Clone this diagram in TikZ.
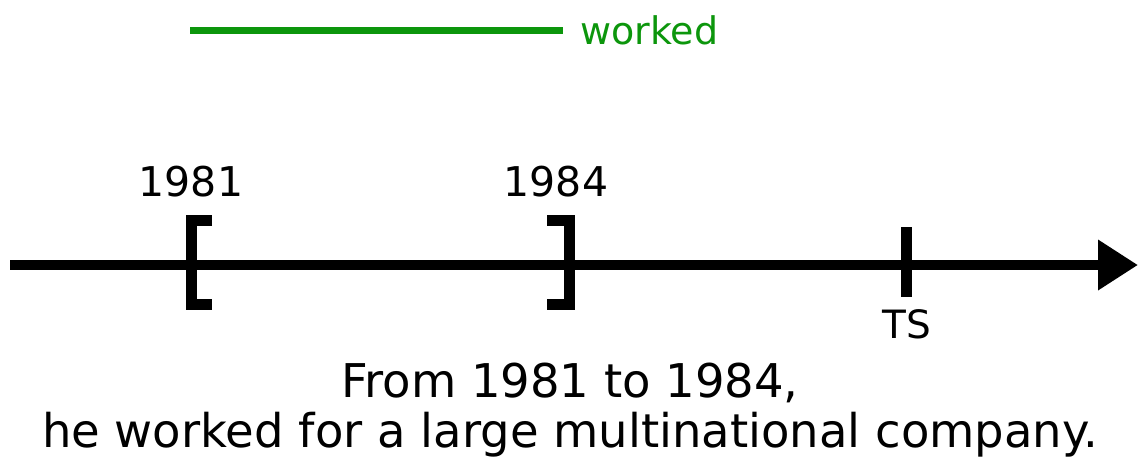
\documentclass[tikz,border=0pt]{standalone}
\usepackage{fontspec}
\setmainfont{DejaVu Sans}
\usetikzlibrary{arrows.meta}
\definecolor{workgreen}{RGB}{12,150,12}
\tikzset{
  axis/.style={line width=10pt, -{Triangle[length=40pt,width=48pt]}},
  bracket/.style={line width=11pt, line join=miter},
  tick/.style={line width=11pt},
  year/.style={font=\fontsize{41}{44}\selectfont, inner sep=0pt},
  label/.style={font=\fontsize{39}{42}\selectfont, inner sep=0pt},
  caption/.style={font=\fontsize{46.5}{44}\selectfont, inner sep=0pt, anchor=base},
}
\begin{document}
\begin{tikzpicture}[x=1pt,y=1pt]
  \useasboundingbox (0,0) rectangle (1139,-459);
  % time axis
  \coordinate (start) at (10,-265);
  \coordinate (tip) at (1138,-265);
  \draw[axis] (start) -- (tip);
  % interval brackets
  \coordinate (b1) at (191,-265);
  \coordinate (b2) at (569,-265);
  \draw[bracket] ([xshift=21pt,yshift=44.5pt]b1) -- ([yshift=44.5pt]b1) -- ([yshift=-39.5pt]b1) -- ([xshift=21pt,yshift=-39.5pt]b1);
  \draw[bracket] ([xshift=-22pt,yshift=44.5pt]b2) -- ([yshift=44.5pt]b2) -- ([yshift=-39.5pt]b2) -- ([xshift=-22pt,yshift=-39.5pt]b2);
  \node[year] (y1981) at (191,-182) {1981};
  \node[year] (y1984) at (556,-182) {1984};
  % time of speaking
  \coordinate (tsTop) at (906,-227);
  \coordinate (tsBot) at (906,-297);
  \draw[tick] (tsTop) -- (tsBot);
  \node[label] (ts) at (907,-324) {TS};
  % the action line
  \coordinate (wStart) at (190,-30);
  \coordinate (wEnd) at (563,-30);
  \draw[workgreen, line width=7pt] (wStart) -- (wEnd);
  \node[label, font=\fontsize{38}{42}\selectfont, text=workgreen, anchor=west] (worked) at (580,-30) {worked};
  % example sentence
  \node[caption] (line1) at (570,-397) {From 1981 to 1984,};
  \node[caption] (line2) at (570,-447) {he worked for a large multinational company.};
\end{tikzpicture}
\end{document}
